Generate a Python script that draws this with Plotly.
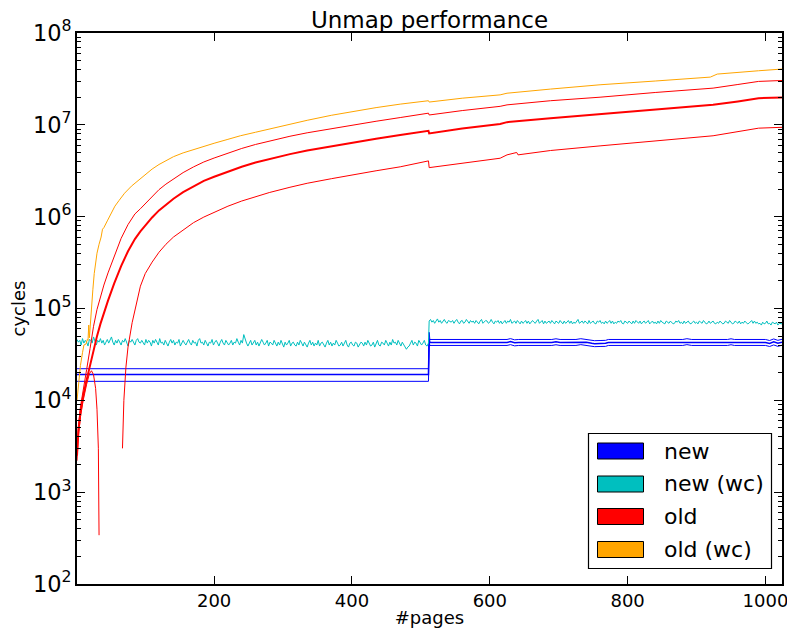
import plotly.graph_objects as go

# ---------------- data ----------------
# new: three blue lines (upper / mean / lower), cycles
new_pages = [1, 511, 512, 513, 625, 630, 636, 642, 690, 696, 702, 725, 732, 740, 748, 752, 760, 768, 772,
             880, 886, 893, 945, 950, 955, 970, 976, 982, 1000, 1006, 1012, 1018, 1024]
new_upper = [22.1e3, 22.1e3, 55.0e3, 46.0e3, 46.0e3, 47.0e3, 45.6e3, 46.0e3, 46.0e3, 46.8e3, 46.0e3, 46.0e3,
             46.9e3, 46.2e3, 45.0e3, 44.6e3, 44.8e3, 45.0e3, 46.0e3, 46.0e3, 46.9e3, 46.0e3, 46.0e3, 46.8e3,
             46.0e3, 46.0e3, 46.8e3, 46.0e3, 46.0e3, 44.8e3, 46.6e3, 45.0e3, 46.2e3]
new_mean = [19.1e3, 19.1e3, 47.0e3, 42.7e3, 42.7e3, 43.6e3, 42.3e3, 42.7e3, 42.7e3, 43.4e3, 42.7e3, 42.7e3,
            43.5e3, 42.9e3, 41.8e3, 41.4e3, 41.6e3, 41.8e3, 42.7e3, 42.7e3, 43.5e3, 42.7e3, 42.7e3, 43.4e3,
            42.7e3, 42.7e3, 43.4e3, 42.7e3, 42.7e3, 41.6e3, 43.3e3, 41.8e3, 42.9e3]
new_lower = [16.1e3, 16.1e3, 43.0e3, 39.6e3, 39.6e3, 40.4e3, 39.2e3, 39.6e3, 39.6e3, 40.3e3, 39.6e3, 39.6e3,
             40.4e3, 39.8e3, 38.7e3, 38.4e3, 38.6e3, 38.7e3, 39.6e3, 39.6e3, 40.4e3, 39.6e3, 39.6e3, 40.3e3,
             39.6e3, 39.6e3, 40.3e3, 39.6e3, 39.6e3, 38.6e3, 40.1e3, 38.7e3, 39.8e3]

# new (wc): cyan, thousands of cycles; pages 1,3,...,511 then 512,514,...,1024
newwc_pages = list(range(1, 512, 2)) + list(range(512, 1025, 2))
newwc_k = [
    46, 43, 45, 40, 47, 42, 45, 43, 39, 46, 45, 42, 49, 43, 40, 45,
    43, 47, 42, 45, 40, 43, 46, 42, 45, 49, 43, 40, 45, 42, 46, 43,
    40, 45, 43, 47, 42, 39, 45, 43, 46, 42, 40, 45, 47, 43, 42, 45,
    43, 40, 46, 42, 45, 43, 39, 45, 42, 46, 43, 40, 47, 42, 43, 40,
    45, 42, 39, 43, 46, 42, 45, 40, 43, 42, 46, 39, 43, 45, 42, 40,
    43, 46, 42, 40, 45, 42, 43, 39, 45, 47, 42, 43, 40, 45, 42, 39,
    43, 42, 46, 40, 43, 45, 42, 39, 43, 46, 42, 40, 45, 43, 40, 42,
    45, 40, 43, 42, 47, 43, 40, 45, 42, 52, 46, 42, 39, 43, 45, 40,
    42, 45, 40, 43, 39, 42, 46, 43, 40, 42, 45, 39, 43, 42, 40, 45,
    42, 39, 43, 40, 45, 42, 38, 43, 40, 42, 45, 39, 42, 43, 40, 39,
    43, 40, 45, 42, 39, 43, 40, 38, 42, 45, 40, 43, 39, 42, 40, 45,
    39, 42, 43, 40, 38, 42, 45, 40, 43, 39, 42, 40, 45, 42, 39, 40,
    43, 39, 42, 45, 40, 38, 42, 43, 40, 39, 43, 42, 38, 40, 43, 42,
    39, 43, 40, 45, 42, 39, 40, 43, 38, 42, 45, 40, 39, 43, 42, 40,
    45, 42, 39, 43, 40, 46, 42, 43, 40, 45, 42, 39, 43, 40, 38, 36,
    38, 39, 42, 45, 40, 43, 42, 39, 45, 43, 40, 42, 45, 40, 39, 42,
    73, 76, 71, 74, 69, 73, 77, 71, 74, 69, 73, 76, 71, 69, 74, 73,
    71, 74, 69, 73, 76, 71, 68, 73, 74, 69, 71, 76, 73, 69, 74, 71,
    73, 69, 74, 71, 68, 73, 76, 69, 71, 74, 73, 69, 71, 76, 71, 68,
    73, 71, 74, 69, 73, 68, 71, 74, 69, 73, 71, 76, 69, 71, 73, 69,
    74, 71, 68, 73, 69, 71, 74, 69, 73, 68, 71, 74, 71, 69, 73, 76,
    69, 71, 74, 68, 73, 69, 71, 73, 69, 74, 71, 68, 73, 71, 69, 74,
    71, 68, 73, 69, 71, 74, 69, 73, 68, 71, 69, 73, 76, 69, 71, 73,
    69, 73, 71, 68, 74, 69, 71, 73, 69, 68, 73, 71, 74, 69, 71, 68,
    73, 69, 71, 74, 69, 73, 68, 71, 69, 73, 71, 74, 69, 68, 73, 71,
    69, 73, 71, 68, 73, 69, 74, 71, 69, 73, 68, 71, 73, 69, 71, 74,
    68, 71, 73, 69, 71, 68, 73, 69, 74, 71, 69, 68, 73, 71, 69, 73,
    71, 68, 69, 73, 71, 74, 69, 71, 68, 73, 69, 71, 73, 69, 68, 71,
    73, 69, 71, 68, 73, 71, 69, 74, 71, 68, 69, 73, 69, 71, 73, 69,
    68, 71, 69, 73, 71, 68, 69, 73, 71, 69, 74, 71, 68, 69, 73, 71,
    69, 73, 68, 71, 69, 73, 71, 68, 69, 71, 74, 69, 73, 69, 71, 68,
    69, 66, 71, 68, 69, 73, 68, 69, 66, 71, 69, 68, 71, 66, 69, 68,
    68,
]

# old: red mean (thick), upper and lower (thin)
old_pages = [1, 3, 6, 10, 15, 20, 25, 30, 35, 40, 46, 55, 65, 75, 85, 93, 100, 110, 120, 130, 141, 155,
             170, 185, 200, 220, 240, 260, 280, 310, 335, 370, 400, 435, 470, 490, 511, 512, 560, 615, 625,
             688, 760, 840, 924, 960, 990, 1024]
old_mean = [2.5e3, 4.6e3, 7.4e3, 1.12e4, 1.67e4, 2.45e4, 3.54e4, 5.0e4, 6.8e4, 9.0e4, 1.22e5, 1.88e5,
            2.9e5, 4.2e5, 5.7e5, 6.9e5, 8.0e5, 9.8e5, 1.17e6, 1.36e6, 1.57e6, 1.85e6, 2.15e6, 2.45e6,
            2.72e6, 3.1e6, 3.5e6, 3.88e6, 4.25e6, 4.8e6, 5.25e6, 5.85e6, 6.4e6, 7.05e6, 7.75e6, 8.15e6,
            8.6e6, 8.05e6, 9.1e6, 1.02e7, 1.07e7, 1.18e7, 1.31e7, 1.45e7, 1.65e7, 1.8e7, 1.95e7, 1.99e7]
old_upper = [2.8e3, 5.2e3, 8.5e3, 1.34e4, 2.17e4, 3.68e4, 6.4e4, 9.75e4, 1.36e5, 1.8e5, 2.44e5, 3.76e5,
             5.8e5, 8.2e5, 1.07e6, 1.22e6, 1.38e6, 1.67e6, 1.97e6, 2.26e6, 2.59e6, 3.02e6, 3.48e6, 3.94e6,
             4.35e6, 4.93e6, 5.53e6, 6.11e6, 6.67e6, 7.51e6, 8.19e6, 9.11e6, 9.95e6, 1.094e7, 1.2e7,
             1.263e7, 1.34e7, 1.28e7, 1.43e7, 1.59e7, 1.65e7, 1.83e7, 2.0e7, 2.25e7, 2.51e7, 2.75e7,
             2.97e7, 3.04e7]
old_lower_pages = [1, 3, 6, 10, 15, 19, 22, 25, 28, 30, 32, 33, 50, 67, 69, 72, 75, 81, 86, 93, 100, 110,
                   120, 130, 141, 155, 170, 185, 200, 220, 240, 260, 280, 310, 335, 370, 400, 435, 470, 490,
                   511, 512, 560, 615, 625, 639, 641, 688, 760, 866, 924, 990, 1024]
old_lower = [2.2e3, 4.1e3, 6.6e3, 1.0e4, 1.5e4, 1.95e4, 2.1e4, 1.9e4, 1.35e4, 8.0e3, 3.0e3, 3.4e2, None,
             3.0e3, 1.0e4, 2.3e4, 3.8e4, 7.0e4, 1.05e5, 1.75e5, 2.4e5, 3.2e5, 4.1e5, 5.0e5, 6.0e5, 7.2e5,
             8.6e5, 9.9e5, 1.12e6, 1.3e6, 1.48e6, 1.65e6, 1.83e6, 2.09e6, 2.31e6, 2.59e6, 2.85e6, 3.16e6,
             3.49e6, 3.75e6, 4.05e6, 3.42e6, 3.8e6, 4.33e6, 4.71e6, 5.0e6, 4.71e6, 5.25e6, 5.9e6, 6.9e6,
             7.6e6, 9.2e6, 9.4e6]

# old (wc): orange
oldwc_pages = [1, 3, 6, 9, 11, 14, 16, 17, 18, 19, 20, 22, 24, 26, 28, 30, 33, 36, 38, 40, 45, 50, 56, 62,
               70, 80, 93, 110, 120, 141, 155, 170, 185, 200, 220, 238, 260, 280, 310, 335, 370, 400, 435,
               470, 511, 512, 560, 615, 625, 688, 760, 840, 920, 930, 960, 990, 1024]
oldwc = [1.0e4, 1.5e4, 2.4e4, 3.3e4, 4.0e4, 4.1e4, 4.6e4, 4.5e4, 6.6e4, 4.8e4, 6.5e4, 1.0e5, 1.6e5, 2.4e5,
         3.2e5, 4.0e5, 5.0e5, 6.0e5, 7.3e5, 7.6e5, 9.0e5, 1.05e6, 1.3e6, 1.5e6, 1.8e6, 2.15e6, 2.6e6, 3.3e6,
         3.7e6, 4.5e6, 4.95e6, 5.4e6, 5.85e6, 6.3e6, 6.95e6, 7.6e6, 8.3e6, 9.0e6, 1.02e7, 1.12e7, 1.27e7,
         1.4e7, 1.54e7, 1.68e7, 1.83e7, 1.77e7, 1.95e7, 2.12e7, 2.21e7, 2.45e7, 2.73e7, 3.0e7, 3.31e7, 3.57e7,
         3.75e7, 3.88e7, 4.05e7]

legend_labels = ["new", "new (wc)", "old", "old (wc)"]
x_tickvals = [200, 400, 600, 800, 1000]

# ---------------- styling ----------------
BLUE, CYAN, RED, ORANGE = "#0000ff", "#00bfbf", "#ff0000", "#ffa500"
legend_colors = [BLUE, CYAN, RED, ORANGE]
FONT = "DejaVu Sans"

fig = go.Figure()


def add_line(x, y, color, width):
    fig.add_trace(go.Scatter(x=x, y=y, mode="lines", line=dict(color=color, width=width),
                             showlegend=False, hoverinfo="skip", connectgaps=False))


newwc = [v * 1000 for v in newwc_k]
add_line(new_pages, new_upper, BLUE, 1.0)
add_line(new_pages, new_mean, BLUE, 1.5)
add_line(new_pages, new_lower, BLUE, 1.0)
add_line(newwc_pages, newwc, CYAN, 1.0)
add_line(old_pages, old_upper, RED, 1.0)
add_line(old_pages, old_mean, RED, 2.0)
add_line(old_lower_pages, old_lower, RED, 1.0)
add_line(oldwc_pages, oldwc, ORANGE, 1.0)

# page body has an 8px default margin -> draw the figure 8px smaller and shifted
OFF = 8
WIN_W, WIN_H = 795, 632
W, H = WIN_W - OFF, WIN_H - OFF
L_ref, R_ref, T_ref, B_ref = 77, 782, 33, 584   # plot box in window pixels


def fx(px):
    return (px - L_ref) / (R_ref - L_ref)


def fy(py):
    return (B_ref - py) / (B_ref - T_ref)


fig.update_layout(
    width=W, height=H,
    margin=dict(l=L_ref - OFF, r=WIN_W - R_ref, t=T_ref - OFF, b=WIN_H - B_ref, autoexpand=False),
    paper_bgcolor="white", plot_bgcolor="white",
    font=dict(family=FONT, size=18, color="black"),
    title=dict(text="Unmap performance", x=0.5, xref="paper", y=1 - (19.5 - OFF) / H, yref="container",
               xanchor="center", yanchor="middle", font=dict(size=23, family=FONT)),
    showlegend=False,
)
fig.update_xaxes(
    range=[1, 1024], tickvals=x_tickvals, ticks="inside", ticklen=8, tickwidth=1, tickcolor="black",
    showline=True, linecolor="black", linewidth=1.5, mirror="ticks", showgrid=False, zeroline=False,
    automargin=False,
    title=dict(text="#pages", font=dict(size=18), standoff=1), tickfont=dict(size=18),
)
fig.update_yaxes(
    type="log", range=[2, 8], dtick=1, exponentformat="power", showexponent="all",
    ticks="inside", ticklen=8, tickwidth=1, tickcolor="black",
    minor=dict(ticks="inside", ticklen=4, tickcolor="black", dtick="D1", showgrid=False),
    showline=True, linecolor="black", linewidth=1.5, mirror="allticks", showgrid=False, zeroline=False,
    automargin=False,
    title=dict(text="cycles", font=dict(size=18), standoff=4), tickfont=dict(size=18),
)

# legend drawn as patches (matplotlib-style rectangles)
shapes = [dict(type="rect", xref="paper", yref="paper", x0=fx(588.5), x1=fx(771.5), y0=fy(568.5), y1=fy(433.5),
               line=dict(color="black", width=1.2), fillcolor="white", layer="above")]
annotations = []
row_y = [451, 484, 516.5, 549.5]
for lab, col, cy in zip(legend_labels, legend_colors, row_y):
    shapes.append(dict(type="rect", xref="paper", yref="paper", x0=fx(597.5), x1=fx(643.5),
                       y0=fy(cy + 8), y1=fy(cy - 8), line=dict(color="black", width=1),
                       fillcolor=col, layer="above"))
    annotations.append(dict(x=fx(662), y=fy(cy), xref="paper", yref="paper", text=lab, showarrow=False,
                            xanchor="left", yanchor="middle", font=dict(size=22, family=FONT)))
fig.update_layout(shapes=shapes, annotations=annotations)

fig.write_html("out.html")
